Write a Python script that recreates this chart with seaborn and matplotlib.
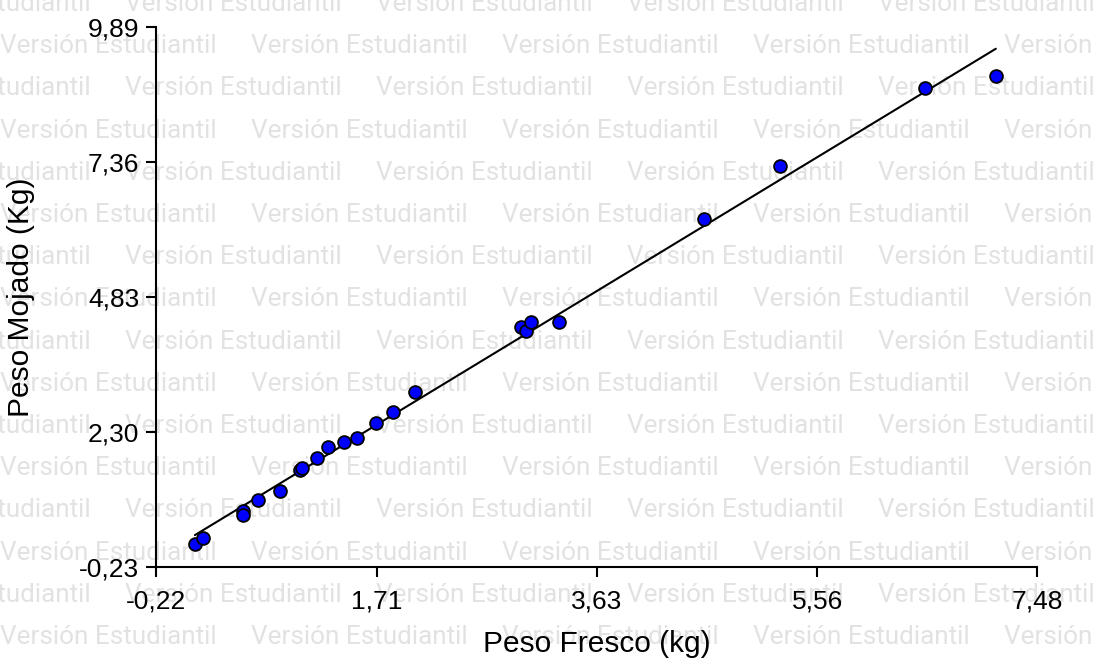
import numpy as np
import pandas as pd
import matplotlib
matplotlib.use("Agg")
import matplotlib.pyplot as plt
import seaborn as sns

# Datos
peso_fresco = [0.12, 0.19, 0.54, 0.54, 0.67, 0.86, 1.04, 1.06, 1.19, 1.28, 1.42, 1.54,
               1.70, 1.85, 2.04, 2.97, 3.01, 3.06, 3.30, 4.57, 5.23, 6.50, 7.12]
peso_mojado = [0.21, 0.31, 0.82, 0.75, 1.03, 1.20, 1.59, 1.63, 1.81, 2.01, 2.11, 2.19,
               2.47, 2.67, 3.05, 4.26, 4.19, 4.37, 4.36, 6.29, 7.28, 8.74, 8.97]

x_ticks = [-0.22, 1.71, 3.63, 5.56, 7.48]
y_ticks = [-0.23, 2.30, 4.83, 7.36, 9.89]

marca_agua = "Versión Estudiantil"

df = pd.DataFrame({"Peso Fresco (kg)": peso_fresco, "Peso Mojado (Kg)": peso_mojado})

sns.set_theme(style="white")
plt.rcParams["font.family"] = ["Liberation Sans", "DejaVu Sans"]

W, H = 1093, 658
fig = plt.figure(figsize=(W / 100, H / 100), dpi=100)
ax = fig.add_axes([156 / W, 1 - 567 / H, (1037 - 156) / W, (567 - 27) / H])
ax.patch.set_alpha(0)

# marca de agua de fondo
for k in range(16):
    base = 11 + 42.2 * k
    fase = 125 if k % 2 == 0 else 0
    for n in range(-1, 5):
        fig.text((fase + 251 * n) / W, 1 - base / H, marca_agua, family="Roboto",
                 fontsize=18.8, color="#e2e2e2", va="baseline", ha="left", zorder=-10)

sns.regplot(data=df, x="Peso Fresco (kg)", y="Peso Mojado (Kg)", ax=ax, ci=None,
            scatter_kws=dict(s=85, color="#0000ff", edgecolors="black", linewidths=1.3, alpha=1, zorder=3),
            line_kws=dict(color="black", linewidth=1.5, zorder=2))

ax.set_xlim(x_ticks[0], x_ticks[-1])
ax.set_ylim(y_ticks[0], y_ticks[-1])
ax.set_xticks(x_ticks)
ax.set_yticks(y_ticks)
ax.set_xticklabels([f"{v:.2f}".replace(".", ",") for v in x_ticks])
ax.set_yticklabels([f"{v:.2f}".replace(".", ",") for v in y_ticks])
ax.tick_params(axis="both", direction="out", length=7, width=1.5, color="black",
               labelsize=19, labelcolor="black", bottom=True, left=True)
ax.tick_params(axis="x", pad=9)
ax.tick_params(axis="y", pad=5)

for s in ["top", "right"]:
    ax.spines[s].set_visible(False)
for s in ["left", "bottom"]:
    ax.spines[s].set_color("black")
    ax.spines[s].set_linewidth(1.5)

ax.set_xlabel("Peso Fresco (kg)", fontsize=21.5, color="black", labelpad=12)
ax.set_ylabel("Peso Mojado (Kg)", fontsize=21.5, color="black", labelpad=32)

fig.savefig("out.png", dpi=100)
